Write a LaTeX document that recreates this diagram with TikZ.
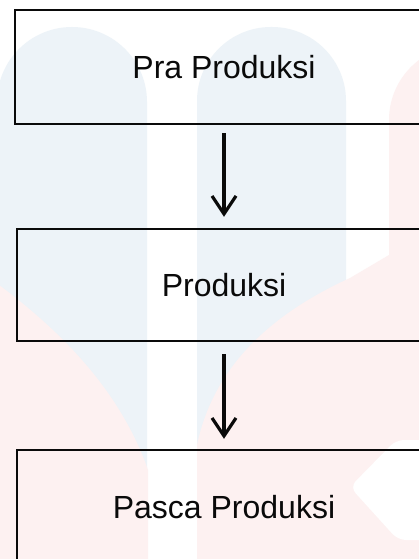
\documentclass[tikz,border=0pt]{standalone}
\usepackage{fontspec}
\setmainfont{Liberation Sans}
\usetikzlibrary{arrows.meta}
\definecolor{wmblue}{RGB}{237,243,248}
\definecolor{wmpink}{RGB}{253,241,241}
\definecolor{ink}{RGB}{10,10,10}
\tikzset{
  stagebox/.style={draw=ink, line width=2.4pt, rectangle, inner sep=0pt,
    minimum height=114pt, text=ink, font=\fontsize{32}{38}\selectfont},
  flowarrow/.style={draw=ink, line width=3.2pt,
    -{Straight Barb[length=18pt,width=24pt,line width=3.2pt]}}
}
\begin{document}
\begin{tikzpicture}[x=1pt,y=-1pt]
\useasboundingbox (0,0) rectangle (419,559);
\clip (0,0) rectangle (419,559);
\fill[white] (0,0) rectangle (419,559);
% watermark
\fill[wmblue, rounded corners=75pt] (-3,27) rectangle (147,700);
\fill[wmblue, rounded corners=74pt] (197,27) rectangle (346,700);
\fill[wmpink, rounded corners=75pt] (389,45) rectangle (539,700);
\fill[wmpink] (-5,282) .. controls (60,330) and (120,390) .. (148,470)
  -- (148,600) -- (-5,600) -- cycle;
\fill[wmpink] (197,445) .. controls (215,360) and (280,310) .. (350,278)
  -- (389,255) -- (430,255) -- (430,600) -- (197,600) -- cycle;
\fill[white, rounded corners=8pt] (350,487) -- (396,440) -- (440,440)
  -- (440,540) -- (398,540) -- cycle;
% boxes
\node[stagebox, minimum width=418pt] (pra) at (224,67) {Pra Produksi};
\node[stagebox, minimum width=414pt, minimum height=112pt] (prod) at (224,285) {Produksi};
\node[stagebox, minimum width=414pt] (pasca) at (224,507) {Pasca Produksi};
% arrows
\draw[flowarrow, shorten <=8pt, shorten >=11pt] (pra.south) -- (prod.north);
\draw[flowarrow, shorten <=12pt, shorten >=10pt] (prod.south) -- (pasca.north);
\end{tikzpicture}
\end{document}
